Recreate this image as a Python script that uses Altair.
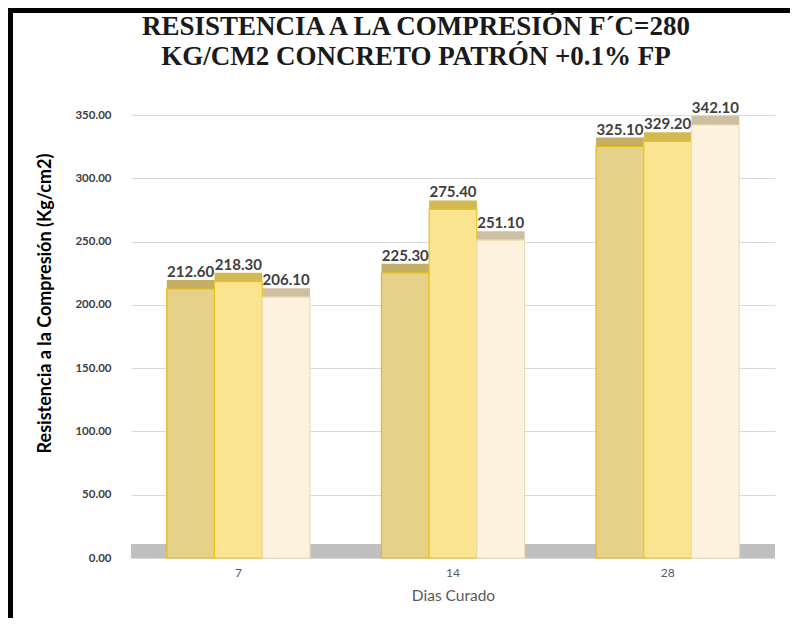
import altair as alt
import pandas as pd

dias = ["7", "14", "28"]
serie_1 = [212.60, 225.30, 325.10]
serie_2 = [218.30, 275.40, 329.20]
serie_3 = [206.10, 251.10, 342.10]
series = ["Serie 1", "Serie 2", "Serie 3"]
y_ticks = [0, 50, 100, 150, 200, 250, 300, 350]
titulo = ["RESISTENCIA A LA COMPRESIÓN F´C=280", "KG/CM2 CONCRETO PATRÓN +0.1% FP"]

rows = []
for i, d in enumerate(dias):
    for s, vals in zip(series, [serie_1, serie_2, serie_3]):
        rows.append({"dia": d, "serie": s, "valor": vals[i]})
df = pd.DataFrame(rows)
one = pd.DataFrame({"k": [0]})

front_colors = ["#e6d188", "#fbe48f", "#fdf2de"]
shade_colors = ["#c4ae63", "#d3b94f", "#cdbfa2"]
border_colors = ["#e2bc1c", "#ecc422", "#f3dcb2"]

W, H = 644, 443
PAD_L, PAD_T = 123, 107

x_enc = alt.X("dia:N", sort=dias,
              scale=alt.Scale(paddingInner=0.333, paddingOuter=0.1667),
              axis=alt.Axis(title="Dias Curado", labelAngle=0, ticks=False, domain=False,
                            labelFont="Lato", labelFontSize=12, labelColor="#595959",
                            labelPadding=9,
                            titleFont="Lato", titleFontSize=15.5, titleFontWeight="normal",
                            titleColor="#595959", titlePadding=10))
xo_enc = alt.XOffset("serie:N", sort=series, scale=alt.Scale(paddingInner=0, paddingOuter=0))
y_enc = alt.Y("valor:Q", scale=alt.Scale(domain=[0, 350], nice=False),
              axis=alt.Axis(title="Resistencia a la Compresión (Kg/cm2)", values=y_ticks,
                            format=".2f", ticks=False, domain=False, grid=True,
                            gridColor="#d9d9d9", gridWidth=1,
                            labelFont="Lato", labelFontSize=11.5, labelFontWeight="bold",
                            labelColor="#404040", labelPadding=20,
                            titleFont="Lato", titleFontSize=18, titleFontWeight="bold",
                            titleColor="#000000", titleAngle=-90,
                            titleX=-86, titleY=188, titleAlign="center",
                            titleBaseline="middle"))

base = alt.Chart(df)
deco = alt.Chart(one)

frame_left = deco.mark_rule(color="#000000", strokeWidth=5).encode(
    x=alt.value(-PAD_L + 2.5), y=alt.value(-PAD_T), y2=alt.value(H + 60)
)
frame_top = deco.mark_rule(color="#000000", strokeWidth=5).encode(
    x=alt.value(-PAD_L), x2=alt.value(W + 15), y=alt.value(-PAD_T + 2.5)
)

title_mark = deco.mark_text(font="Liberation Serif", fontSize=27, fontWeight="bold",
                            color="#1a1a1a", align="center", baseline="alphabetic",
                            lineHeight=30).encode(
    x=alt.value(285), y=alt.value(-80), text=alt.value(titulo)
)

floor = deco.mark_rect(color="#c0c0c0", y2Offset=-14).encode(
    x=alt.value(0), x2=alt.value("width"),
    y=alt.value(H), y2=alt.value(H)
)

shade = base.mark_bar(xOffset=4, yOffset=-9, y2Offset=-9).encode(
    x=x_enc, xOffset=xo_enc, y=y_enc,
    color=alt.Color("serie:N", sort=series, legend=None,
                    scale=alt.Scale(domain=series, range=shade_colors))
)

front = base.mark_bar(strokeWidth=1.2).encode(
    x=x_enc, xOffset=xo_enc, y=y_enc,
    fill=alt.Fill("serie:N", sort=series, legend=None,
                  scale=alt.Scale(domain=series, range=front_colors)),
    stroke=alt.Stroke("serie:N", sort=series, legend=None,
                      scale=alt.Scale(domain=series, range=border_colors))
)

labels = base.mark_text(dy=-17, font="Lato", fontSize=15, fontWeight="bold",
                        color="#404040").encode(
    x=x_enc, xOffset=xo_enc, y=y_enc,
    text=alt.Text("valor:Q", format=".2f")
)

chart = alt.layer(floor, shade, front, labels, frame_left, frame_top, title_mark).resolve_scale(
    color="independent", fill="independent", stroke="independent"
).properties(
    width=W, height=H,
    autosize=alt.AutoSizeParams(type="none"),
    padding={"left": PAD_L, "top": PAD_T, "right": 15, "bottom": 60},
    background="white"
).configure_view(stroke=None)

chart.save("out.html", embed_options={"renderer": "svg", "actions": False})
